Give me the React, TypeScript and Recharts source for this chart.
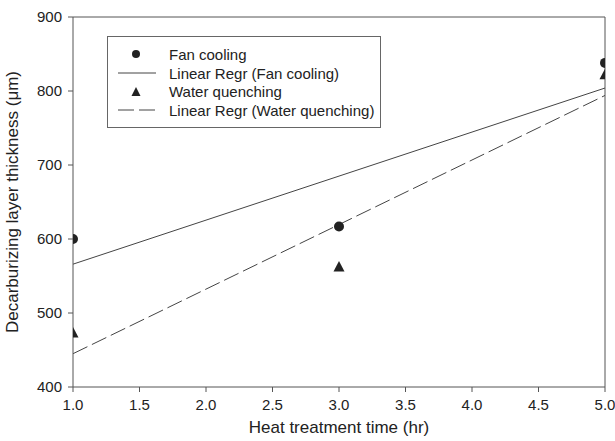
import {
  ComposedChart,
  XAxis,
  YAxis,
  Scatter,
  Line,
  ReferenceLine,
} from "recharts";

const times = [1, 3, 5];
const fanCooling = [600, 617, 838];
const waterQuenching = [473, 562, 822];
const regrX = [1, 5];
const fanRegr = [566, 804];
const waterRegr = [445, 794];
const xTicks = [1, 1.5, 2, 2.5, 3, 3.5, 4, 4.5, 5];
const yTicks = [400, 500, 600, 700, 800, 900];

const fanData = times.map((t, i) => ({ x: t, y: fanCooling[i] }));
const waterData = times.map((t, i) => ({ x: t, y: waterQuenching[i] }));
const fanLine = regrX.map((t, i) => ({ x: t, y: fanRegr[i] }));
const waterLine = regrX.map((t, i) => ({ x: t, y: waterRegr[i] }));

const font = "'Liberation Sans', Arial, sans-serif";
const axisColor = "#555";
const markColor = "#222";

const Dot = (p: any) => <circle cx={p.cx} cy={p.cy} r={5} fill={markColor} />;
const Tri = (p: any) => (
  <polygon
    points={`${p.cx},${p.cy - 6} ${p.cx - 5.5},${p.cy + 4.5} ${p.cx + 5.5},${p.cy + 4.5}`}
    fill={markColor}
  />
);

function LegendBox() {
  const rows = [
    { label: "Fan cooling", kind: "dot" },
    { label: "Linear Regr (Fan cooling)", kind: "solid" },
    { label: "Water quenching", kind: "tri" },
    { label: "Linear Regr (Water quenching)", kind: "dash" },
  ];
  return (
    <div
      style={{
        position: "absolute",
        left: 107,
        top: 36,
        width: 274,
        height: 92,
        border: "1.5px solid #666",
        padding: "8px 0 0 10px",
        background: "#fff",
        fontFamily: font,
        fontSize: 15,
        color: "#222",
        boxSizing: "border-box",
      }}
    >
      {rows.map((r) => (
        <div key={r.label} style={{ display: "flex", alignItems: "center", height: 18.7 }}>
          <svg width={40} height={14} style={{ marginRight: 11 }}>
            {r.kind === "dot" && <circle cx={18} cy={7} r={4} fill={markColor} />}
            {r.kind === "tri" && <polygon points="18,2 13.5,11 22.5,11" fill={markColor} />}
            {r.kind === "solid" && <line x1={0} y1={7} x2={38} y2={7} stroke="#444" strokeWidth={1} />}
            {r.kind === "dash" && (
              <line x1={0} y1={7} x2={38} y2={7} stroke="#444" strokeWidth={1} strokeDasharray="16 5" />
            )}
          </svg>
          <span>{r.label}</span>
        </div>
      ))}
    </div>
  );
}

export default function App() {
  return (
    <div style={{ position: "absolute", left: 0, top: 0, width: 615, height: 441, background: "#fff" }}>
      <ComposedChart width={615} height={441} margin={{ top: 17, right: 10, bottom: 0, left: 0 }}>
        <XAxis
          type="number"
          dataKey="x"
          domain={[1, 5]}
          ticks={xTicks}
          tickFormatter={(v: number) => v.toFixed(1)}
          stroke={axisColor}
          tickSize={5}
          tickMargin={7}
          tick={{ fill: "#222", fontSize: 15, fontFamily: font }}
          allowDataOverflow
          height={54}
          label={{
            value: "Heat treatment time (hr)",
            position: "insideBottom",
            offset: 8,
            fill: "#222",
            fontSize: 17,
            fontFamily: font,
          }}
        />
        <YAxis
          type="number"
          dataKey="y"
          domain={[400, 900]}
          ticks={yTicks}
          stroke={axisColor}
          tickSize={5}
          tickMargin={6}
          width={73}
          tick={{ fill: "#222", fontSize: 15, fontFamily: font }}
          allowDataOverflow
          label={{
            value: "Decarburizing layer thickness (\u03bcm)",
            angle: -90,
            position: "insideLeft",
            offset: 12,
            style: { textAnchor: "middle" },
            fill: "#222",
            fontSize: 17,
            fontFamily: font,
          }}
        />
        <ReferenceLine y={900} stroke={axisColor} />
        <ReferenceLine x={5} stroke={axisColor} />
        <Line
          data={fanLine}
          dataKey="y"
          stroke="#444"
          strokeWidth={1}
          dot={false}
          isAnimationActive={false}
        />
        <Line
          data={waterLine}
          dataKey="y"
          stroke="#444"
          strokeWidth={1}
          strokeDasharray="16 5"
          dot={false}
          isAnimationActive={false}
        />
        <Scatter data={fanData} dataKey="y" shape={Dot} isAnimationActive={false} />
        <Scatter data={waterData} dataKey="y" shape={Tri} isAnimationActive={false} />
      </ComposedChart>
      <LegendBox />
    </div>
  );
}
